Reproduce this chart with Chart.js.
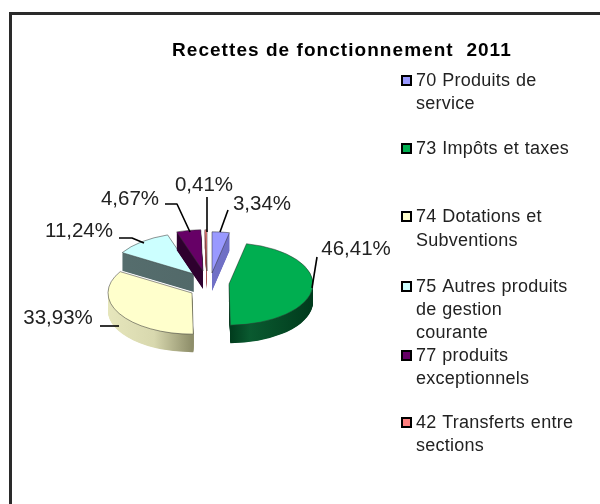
<!DOCTYPE html>
<html>
<head>
<meta charset="utf-8">
<style>
html,body{margin:0;padding:0;background:#fff;width:600px;height:504px;overflow:hidden}
#wrap{position:absolute;left:0;top:0;width:600px;height:504px}
canvas{display:block;filter:blur(0.45px)}
</style>
<script src="https://cdn.jsdelivr.net/npm/chart.js@4"></script>
</head>
<body>
<div id="wrap"><canvas id="c" width="600" height="504"></canvas></div>
<script>
const chartTitle = 'Recettes de fonctionnement  2011';
const categories = ['70 Produits de service','73 Impôts et taxes','74 Dotations et Subventions','75 Autres produits de gestion courante','77 produits exceptionnels','42 Transferts entre sections'];
const legendLines = [['70 Produits de','service'],['73 Impôts et taxes'],['74 Dotations et','Subventions'],['75 Autres produits','de gestion','courante'],['77 produits','exceptionnels'],['42 Transferts entre','sections']];
const values = [3.34,46.41,33.93,11.24,4.67,0.41];

const topColors = ['#9999FF','#00AE50','#FFFFCC','#CCFFFF','#660066','#FF8080'];
const wallLeft  = ['#7777CC','#0A5A30','#E6E6BC','#566E6E','#2E002E','#AA5555'];
const wallRight = ['#6A6AC0','#003A1C','#8E8E6A','#4E6464','#2E002E','#AA5555'];
const shiftX = [5,22,-15,-13,-4,0];
const shiftY = [-12,-1,8,-11,-14,-14];
const paintOrder = [2,3,4,5,0,1];
const squash = 0.49, depth = 18;

const legendRows = [[80,103],[148],[216,240],[286,309,332],[355,378],[422,445]];
const labelBoxes = [[262,204],[356,249],[58,318],[79,231],[130,199],[204,185]];
const leaders = [
  [[228,210],[220,232]],
  [[317,257],[312,288]],
  [[100,326],[119,326]],
  [[119,238],[132,238],[144,243]],
  [[165,204],[177,204],[190,232]],
  [[207,197],[207,232]]
];

function slicePath(ctx,a,dy){
  ctx.beginPath();
  ctx.moveTo(a.x,a.y+dy);
  ctx.arc(a.x,a.y+dy,a.outerRadius,a.startAngle,a.endAngle);
  ctx.closePath();
}

const pie3d = {
  id:'pie3d',
  beforeDatasetsDraw(chart){
    const ctx=chart.ctx, arcs=chart.getDatasetMeta(0).data;
    const cy=arcs[0].y;
    paintOrder.forEach(i=>{
      const a=arcs[i], R=a.outerRadius;
      ctx.save();
      ctx.translate(shiftX[i],cy+shiftY[i]); ctx.scale(1,squash); ctx.translate(0,-cy);
      let g;
      if(i===1){
        g=ctx.createLinearGradient(a.x,0,a.x+R,0);
        g.addColorStop(0,'#003A1C');g.addColorStop(.25,wallLeft[i]);g.addColorStop(1,wallRight[i]);
      } else if(i===2){
        g=ctx.createLinearGradient(a.x-R,0,a.x,0);
        g.addColorStop(0,wallLeft[i]);g.addColorStop(.55,'#D8D8AE');g.addColorStop(1,wallRight[i]);
      } else {
        g=ctx.createLinearGradient(a.x-R,0,a.x+R,0);
        g.addColorStop(0,wallLeft[i]);g.addColorStop(1,wallRight[i]);
      }
      ctx.fillStyle=g;
      for(let k=depth;k>=1;k-=0.5){ slicePath(ctx,a,k/squash); ctx.fill(); }
      a.draw(ctx);
      ctx.restore();
    });
    return false;
  },
  afterDraw(chart){
    const ctx=chart.ctx;
    ctx.save();
    // frame
    ctx.strokeStyle='#2a2a2a'; ctx.lineWidth=3;
    ctx.beginPath(); ctx.moveTo(10.5,504); ctx.lineTo(10.5,13.5); ctx.lineTo(600,13.5); ctx.stroke();
    // title
    ctx.fillStyle='#000'; ctx.textBaseline='alphabetic'; ctx.textAlign='left';
    ctx.font='bold 19px "Liberation Sans"'; ctx.letterSpacing='1.05px';
    ctx.fillText(chartTitle,172,56);
    // legend
    ctx.letterSpacing='0.25px'; ctx.wordSpacing='0.5px';
    ctx.font='18px "Liberation Sans"';
    legendLines.forEach((lines,i)=>{
      const first=legendRows[i][0];
      ctx.fillStyle=topColors[i]; ctx.strokeStyle='#000'; ctx.lineWidth=2;
      ctx.fillRect(402,first-4,9,9); ctx.strokeRect(402,first-4,9,9);
      ctx.fillStyle='#222';
      lines.forEach((t,j)=>ctx.fillText(t,416,legendRows[i][j]+6));
    });
    // leaders
    ctx.strokeStyle='#000'; ctx.lineWidth=1.6; ctx.lineJoin='round';
    leaders.forEach(p=>{ctx.beginPath();p.forEach((q,k)=>k?ctx.lineTo(q[0],q[1]):ctx.moveTo(q[0],q[1]));ctx.stroke();});
    // percent labels
    ctx.letterSpacing='0px'; ctx.wordSpacing='0px';
    ctx.font='20.5px "Liberation Sans"'; ctx.textAlign='center'; ctx.textBaseline='middle'; ctx.fillStyle='#222';
    values.forEach((v,i)=>{
      const s=v.toFixed(2).replace('.',',')+'%';
      ctx.save();
      ctx.beginPath(); ctx.rect(0,0,390,504); ctx.clip();
      ctx.fillText(s,labelBoxes[i][0],labelBoxes[i][1]);
      ctx.restore();
    });
    ctx.restore();
  }
};

new Chart(document.getElementById('c'),{
  type:'pie',
  data:{labels:categories,datasets:[{data:values,backgroundColor:topColors,borderColor:'#333',borderWidth:0.7,clip:false}]},
  options:{
    responsive:false,animation:false,events:[],radius:84,
    layout:{padding:{left:0,right:186,top:66,bottom:0}},
    plugins:{legend:{display:false},title:{display:false},tooltip:{enabled:false}}
  },
  plugins:[pie3d]
});
</script>
</body>
</html>
